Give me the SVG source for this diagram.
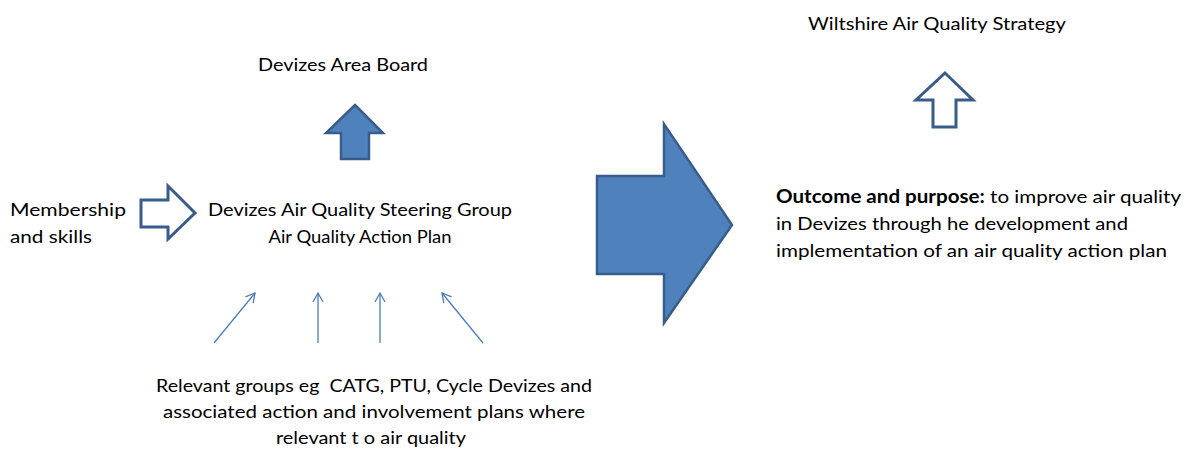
<svg xmlns="http://www.w3.org/2000/svg" width="1191" height="449" viewBox="0 0 1191 449">
<style>
text{font-family:Lato,"Open Sans","Liberation Sans",sans-serif;font-size:18px;fill:#000}
.fill{fill:#4f81bd;stroke:#385d8a;stroke-width:2.5;stroke-linejoin:miter}
.hollow{fill:#fff;stroke:#385d8a;stroke-width:3;stroke-linejoin:miter}
.thin{stroke:#4a7ebb;stroke-width:1.3;fill:none}
</style>
<defs>
<marker id="oa" markerWidth="12" markerHeight="12" refX="10" refY="6" orient="auto" markerUnits="userSpaceOnUse">
<path d="M1,1 L10,6 L1,11" fill="none" stroke="#4a7ebb" stroke-width="1.3"/>
</marker>
</defs>
<g id="strategy"><text x="937" y="30" text-anchor="middle" textLength="258" lengthAdjust="spacingAndGlyphs">Wiltshire Air Quality Strategy</text></g>
<g id="strategy-arrow"><polygon class="hollow" points="945,73 973,100 956,100 956,127 933,127 933,100 916,100"/></g>
<g id="area-board"><text x="343" y="71" text-anchor="middle" textLength="170" lengthAdjust="spacingAndGlyphs">Devizes Area Board</text></g>
<g id="board-arrow"><polygon class="fill" points="355,105 383,133 369,133 369,159 341,159 341,133 326,133"/></g>
<g id="membership"><text x="10" y="216" textLength="116" lengthAdjust="spacingAndGlyphs">Membership</text><text x="10" y="243" textLength="82" lengthAdjust="spacingAndGlyphs">and skills</text></g>
<g id="membership-arrow"><polygon class="hollow" points="141,200 168,200 168,186 195,213 168,239 168,227 141,227"/></g>
<g id="steering"><text x="360" y="216" text-anchor="middle" textLength="304" lengthAdjust="spacingAndGlyphs">Devizes Air Quality Steering Group</text><text x="360" y="243" text-anchor="middle" textLength="183" lengthAdjust="spacingAndGlyphs">Air Quality Action Plan</text></g>
<g id="big-arrow"><polygon class="fill" points="597,176 664,176 664,124 732,225 664,323 664,274 597,274"/></g>
<g id="outcome"><text x="776" y="203" textLength="405" lengthAdjust="spacingAndGlyphs"><tspan font-weight="bold">Outcome and purpose:</tspan> to improve air quality</text><text x="776" y="230" textLength="352" lengthAdjust="spacingAndGlyphs">in Devizes through he development and</text><text x="776" y="257" textLength="391" lengthAdjust="spacingAndGlyphs">implementation of an air quality action plan</text></g>
<g id="groups"><text x="374" y="392" text-anchor="middle" textLength="436" lengthAdjust="spacingAndGlyphs" xml:space="preserve">Relevant groups eg  CATG, PTU, Cycle Devizes and</text><text x="374" y="418" text-anchor="middle" textLength="422" lengthAdjust="spacingAndGlyphs">associated action and involvement plans where</text><text x="371" y="444" text-anchor="middle" textLength="190" lengthAdjust="spacingAndGlyphs">relevant t o air quality</text></g>
<g id="connectors">
<line class="thin" x1="214" y1="343" x2="255" y2="293" marker-end="url(#oa)"/>
<line class="thin" x1="318" y1="343" x2="318" y2="293" marker-end="url(#oa)"/>
<line class="thin" x1="380" y1="343" x2="380" y2="293" marker-end="url(#oa)"/>
<line class="thin" x1="483" y1="343" x2="442" y2="293" marker-end="url(#oa)"/>
</g>
</svg>
